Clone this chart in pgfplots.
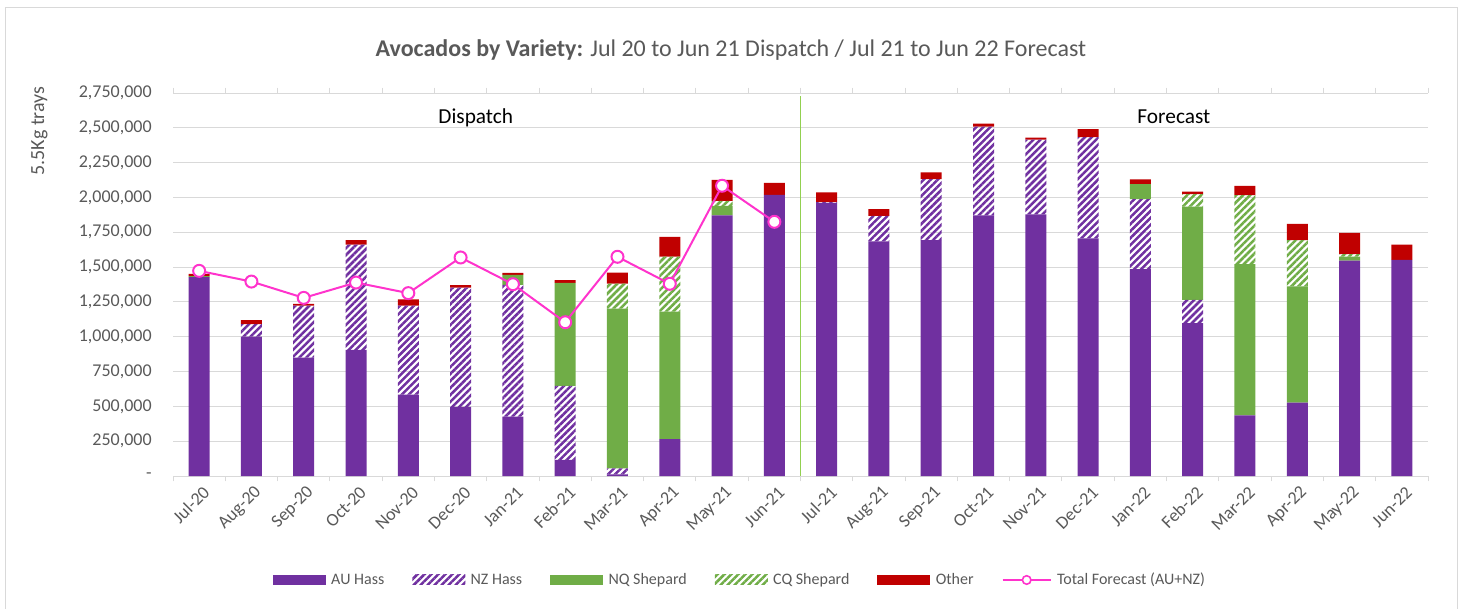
\documentclass[border=0pt]{standalone}
\usepackage{fontspec}
\setmainfont{Carlito}
\usepackage{pgfplots}
\pgfplotsset{compat=1.18}
\usetikzlibrary{patterns.meta}
\definecolor{auhass}{HTML}{7030A0}
\definecolor{nqshep}{HTML}{70AD47}
\definecolor{othercol}{HTML}{C00000}
\definecolor{totline}{HTML}{FF33CC}
\definecolor{txtgray}{HTML}{595959}
\definecolor{gridgray}{HTML}{D9D9D9}
\definecolor{sepgreen}{HTML}{92D050}
\pgfplotsset{
  barleg/.style={legend image code/.code={\path[##1] (0pt,-3.75pt) rectangle (39.75pt,3.75pt);}},
  linleg/.style={legend image code/.code={\draw[##1, mark=none] (0pt,0pt) -- (36pt,0pt); \draw[##1] plot coordinates {(18pt,0pt)};}},
}
\begin{document}
\begin{tikzpicture}
\draw[gridgray, line width=0.75pt] (3.75pt,-5pt) rectangle (1092.75pt,450pt);
\begin{axis}[
  at={(129.75pt,99pt)}, anchor=south west, scale only axis,
  width=941.25pt, height=287.25pt,
  xmin=-0.5, xmax=23.5, ymin=0, ymax=2750000,
  ybar stacked, bar width=15.75pt,
  axis line style={draw=none},
  ymajorgrids, grid style={gridgray, line width=0.75pt},
  scaled y ticks=false,
  ytick={0,250000,...,2750000},
  yticklabels={{-},{250,000},{500,000},{750,000},{1,000,000},{1,250,000},{1,500,000},{1,750,000},{2,000,000},{2,250,000},{2,500,000},{2,750,000}},
  xtick={0,...,23},
  xticklabels={Jul-20,Aug-20,Sep-20,Oct-20,Nov-20,Dec-20,Jan-21,Feb-21,Mar-21,Apr-21,May-21,Jun-21,Jul-21,Aug-21,Sep-21,Oct-21,Nov-21,Dec-21,Jan-22,Feb-22,Mar-22,Apr-22,May-22,Jun-22},
  major tick length=0pt,
  minor xtick={-0.5,0.5,...,23.5}, minor tick length=4pt, tick align=outside,
  minor tick style={gridgray, line width=0.75pt},
  /pgf/number format/assume math mode=true,
  yticklabel style={font=\fontsize{13.5}{15}\selectfont, text=txtgray, xshift=-12.5pt},
  xticklabel style={font=\fontsize{13.5}{15}\selectfont, text=txtgray, rotate=45, anchor=east, yshift=-11pt},
  legend style={at={(0.452,-0.2715)}, anchor=center, draw=none, fill=none,
    font=\fontsize{12}{14}\selectfont, text=txtgray,
    /tikz/every even column/.append style={column sep=19pt},
    /tikz/every odd column/.append style={column sep=2pt}},
  legend columns=6,
]
\addplot[fill=auhass, draw=none, barleg] coordinates {
(0,1428000)(1,1000000)(2,850000)(3,905000)(4,585000)(5,496000)(6,426000)(7,115000)(8,12000)(9,264000)(10,1871000)(11,2019000)
(12,1962000)(13,1684000)(14,1694000)(15,1871000)(16,1878000)(17,1706000)(18,1485000)(19,1097000)(20,436000)(21,527000)(22,1547000)(23,1552000)};
\addlegendentry{AU Hass}
\addplot[pattern={Lines[angle=45,distance=3.7pt,line width=1.9pt]}, pattern color=auhass, draw=none, barleg] coordinates {
(0,0)(1,90000)(2,374000)(3,757000)(4,639000)(5,857000)(6,946000)(7,532000)(8,43000)(9,0)(10,0)(11,0)
(12,5000)(13,184000)(14,438000)(15,637000)(16,537000)(17,728000)(18,503000)(19,168000)(20,0)(21,0)(22,0)(23,0)};
\addlegendentry{NZ Hass}
\addplot[fill=nqshep, draw=none, barleg] coordinates {
(0,8000)(1,0)(2,0)(3,0)(4,0)(5,0)(6,72000)(7,740000)(8,1147000)(9,917000)(10,69000)(11,0)
(12,0)(13,0)(14,0)(15,0)(16,0)(17,0)(18,108000)(19,670000)(20,1085000)(21,834000)(22,29000)(23,0)};
\addlegendentry{NQ Shepard}
\addplot[pattern={Lines[angle=45,distance=3.7pt,line width=1.9pt]}, pattern color=nqshep, draw=none, barleg] coordinates {
(0,0)(1,0)(2,0)(3,0)(4,0)(5,0)(6,0)(7,0)(8,180000)(9,395000)(10,36000)(11,0)
(12,0)(13,0)(14,0)(15,0)(16,0)(17,0)(18,0)(19,89000)(20,496000)(21,333000)(22,17000)(23,0)};
\addlegendentry{CQ Shepard}
\addplot[fill=othercol, draw=none, barleg] coordinates {
(0,16000)(1,30000)(2,12000)(3,32000)(4,45000)(5,17000)(6,15000)(7,19000)(8,79000)(9,141000)(10,151000)(11,86000)
(12,69000)(13,48000)(14,48000)(15,22000)(16,14000)(17,57000)(18,33000)(19,17000)(20,67000)(21,117000)(22,153000)(23,110000)};
\addlegendentry{Other}
\addlegendimage{totline, line width=1.5pt, mark=*, mark size=3.2pt, mark options={fill=white, line width=1.2pt}, linleg}
\addlegendentry{Total Forecast (AU+NZ)}
\end{axis}
\begin{axis}[
  at={(129.75pt,99pt)}, anchor=south west, scale only axis,
  width=941.25pt, height=287.25pt,
  xmin=-0.5, xmax=23.5, ymin=0, ymax=2750000,
  hide axis, clip=false,
]
\addplot[sepgreen, line width=0.75pt, forget plot] coordinates {(11.5,0) (11.5,2730000)};
\addplot[totline, line width=1.5pt, mark=*, mark size=4.5pt, mark options={fill=white, line width=1.5pt}] coordinates {
(0,1473000)(1,1396000)(2,1279000)(3,1389000)(4,1313000)(5,1569000)(6,1377000)(7,1104000)(8,1574000)(9,1380000)(10,2084000)(11,1825000)};
\node[anchor=base, font=\fontsize{16}{18}\selectfont] at (axis cs:5.29,2529500) {Dispatch};
\node[anchor=base, font=\fontsize{16}{18}\selectfont] at (axis cs:18.64,2529500) {Forecast};
\end{axis}
\node[rotate=90, font=\fontsize{15}{17}\selectfont, text=txtgray] at (29.6pt,357.75pt) {5.5Kg trays};
\node[anchor=base, font=\fontsize{18}{21}\selectfont, text=txtgray] at (548.25pt,413.25pt) {\textbf{Avocados by Variety:} Jul 20 to Jun 21 Dispatch / Jul 21 to Jun 22 Forecast};
\pgfresetboundingbox
\useasboundingbox (0,0) rectangle (1096.5pt,456pt);
\end{tikzpicture}
\end{document}
